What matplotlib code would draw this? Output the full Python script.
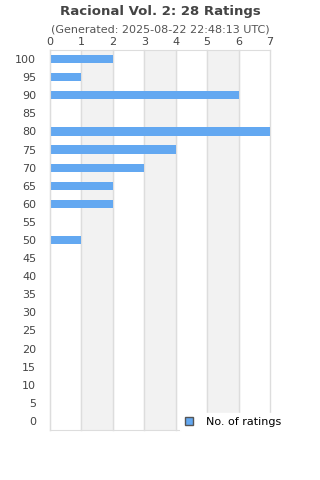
import numpy as np
import matplotlib.pyplot as plt
from matplotlib.patches import Patch

scores = [100, 95, 90, 85, 80, 75, 70, 65, 60, 55, 50, 45, 40, 35, 30, 25, 20, 15, 10, 5, 0]
counts = [2, 1, 6, 0, 7, 4, 3, 2, 2, 0, 1, 0, 0, 0, 0, 0, 0, 0, 0, 0, 0]
xticks = [0, 1, 2, 3, 4, 5, 6, 7]

titulo = "Racional Vol. 2: 28 Ratings"
subtitulo = "(Generated: 2025-08-22 22:48:13 UTC)"

fig = plt.figure(figsize=(3.2, 4.8), dpi=100)
ax = fig.add_axes([50 / 320, 50 / 480, 220 / 320, 380 / 480])

pos = np.arange(len(scores))
for i in range(1, 7, 2):
    ax.axvspan(i, i + 1, color='#f2f2f2', zorder=0)
for x in xticks:
    ax.axvline(x, color='#dddddd', lw=1, zorder=1, clip_on=False)

ax.barh(pos, counts, height=0.45, color='#63a8f1', zorder=2)

ax.set_xlim(0, 7)
ax.set_ylim(len(scores) - 0.5, -0.5)
ax.set_yticks(pos)
ax.set_yticklabels([str(s) for s in scores])
ax.set_xticks(xticks)
ax.xaxis.tick_top()
ax.tick_params(axis='both', length=0, labelsize=8, colors='#444444', pad=2)
ax.tick_params(axis='y', pad=10)
for side in ['top', 'left', 'bottom']:
    ax.spines[side].set_color('#dddddd')
ax.spines['right'].set_visible(False)

fig.text(0.5, 1 - 11 / 480, titulo, ha='center', va='center', fontsize=9.5,
         fontweight='bold', color='#444444')
fig.text(0.5, 1 - 29 / 480, subtitulo, ha='center', va='center', fontsize=8,
         color='#555555')

leg = fig.legend(handles=[Patch(facecolor='#63a8f1', edgecolor='#555555', label='No. of ratings')],
                 loc='center', bbox_to_anchor=(233 / 320, 1 - 422 / 480), fontsize=8,
                 frameon=True, handlelength=0.7, handleheight=0.7, handletextpad=1.2,
                 borderpad=0.4)
leg.get_frame().set_edgecolor('white')
leg.get_frame().set_alpha(1)
leg.set_zorder(5)

plt.savefig('out.png', dpi=100)
